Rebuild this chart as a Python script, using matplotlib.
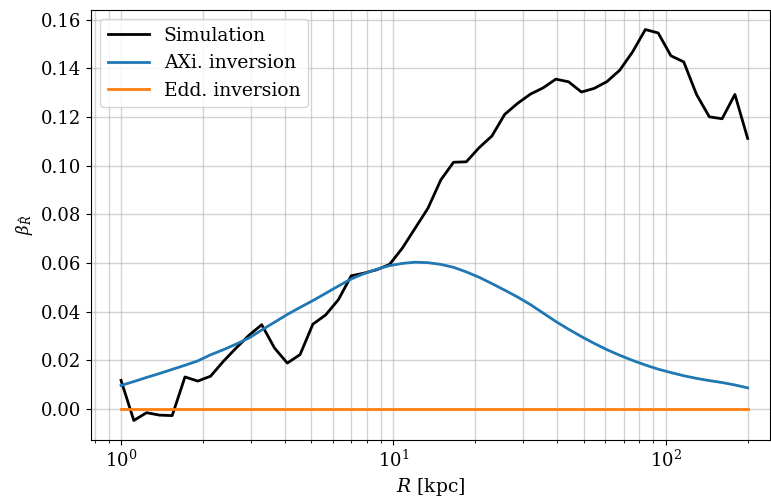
import numpy as np
import matplotlib
matplotlib.use("Agg")
import matplotlib.pyplot as plt

plt.rcParams['font.family'] = 'DejaVu Serif'
plt.rcParams['mathtext.fontset'] = 'dejavuserif'

# radius grid (log spaced, 1 -> 200 kpc, 50 points)
R = np.logspace(0, np.log10(200), 50)

beta_sim = [0.0117, -0.0048, -0.0016, -0.0026, -0.0028, 0.0131, 0.0114, 0.0134, 0.0195, 0.0250,
            0.0302, 0.0346, 0.0250, 0.0188, 0.0223, 0.0348, 0.0386, 0.0449, 0.0547, 0.0558,
            0.0572, 0.0594, 0.0661, 0.0743, 0.0825, 0.0941, 0.1014, 0.1016, 0.1074, 0.1122,
            0.1211, 0.1256, 0.1294, 0.1320, 0.1356, 0.1345, 0.1303, 0.1318, 0.1346, 0.1393,
            0.1468, 0.1560, 0.1546, 0.1452, 0.1427, 0.1293, 0.1201, 0.1193, 0.1293, 0.1112]

beta_axi = [0.0096, 0.0112, 0.0129, 0.0145, 0.0162, 0.0179, 0.0197, 0.0222, 0.0243, 0.0266,
            0.0291, 0.0324, 0.0356, 0.0388, 0.0417, 0.0445, 0.0475, 0.0505, 0.0534, 0.0556,
            0.0574, 0.0589, 0.0598, 0.0603, 0.0601, 0.0594, 0.0582, 0.0563, 0.0541, 0.0515,
            0.0488, 0.0460, 0.0429, 0.0394, 0.0359, 0.0327, 0.0297, 0.0269, 0.0243, 0.0220,
            0.0199, 0.0180, 0.0163, 0.0149, 0.0136, 0.0125, 0.0116, 0.0108, 0.0098, 0.0086]

beta_edd = [0.0] * 50

fig = plt.figure(figsize=(7.71, 5.0), dpi=100)
ax = fig.add_axes([0.1176, 0.12, 0.8811, 0.86])

ax.plot(R, beta_sim, color='black', lw=2, label='Simulation')
ax.plot(R, beta_axi, color='#1f77b4', lw=2, label='AXi. inversion')
ax.plot(R, beta_edd, color='#ff7f0e', lw=2, label='Edd. inversion')

ax.set_xscale('log')
ax.set_xlim(10**-0.1115, 10**2.383)
ax.grid(which='both', color='#b0b0b0', alpha=0.55, lw=1.0)

ax.set_xlabel(r'$R$ [kpc]', fontsize=13.5)
ax.set_ylabel(r'$\beta_{\hat{R}}$', fontsize=12)
ax.tick_params(labelsize=13)
ax.legend(loc='upper left', fontsize=13.5, handlelength=2.2)

fig.savefig('out.png', dpi=100)
